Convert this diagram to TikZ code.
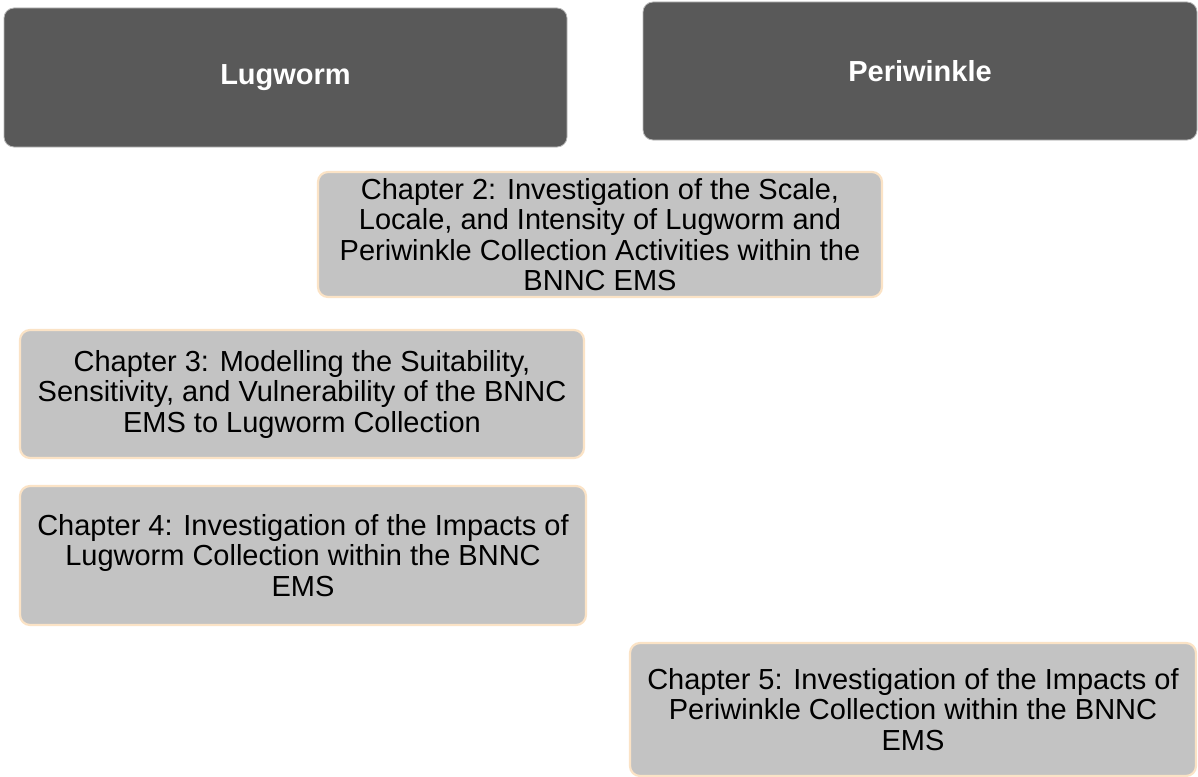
\documentclass[tikz,border=0pt]{standalone}
\usepackage{fontspec}
\setmainfont{Liberation Sans}
\definecolor{darkbox}{HTML}{595959}
\definecolor{lightbox}{HTML}{C3C3C3}
\definecolor{peach}{HTML}{FBE3C6}
\definecolor{edgegray}{HTML}{B8B8B8}
\tikzset{
  topbox/.style={rectangle, rounded corners=10pt, fill=darkbox, draw=edgegray, line width=0.8pt,
    text=white, font=\fontsize{29}{31}\selectfont\bfseries, inner sep=0pt},
  chapbox/.style={rectangle, rounded corners=10pt, fill=lightbox, draw=peach, line width=2.2pt,
    text=black, font=\fontsize{29}{30.5}\selectfont, align=center, inner sep=0pt}
}
\begin{document}
\begin{tikzpicture}[x=1pt,y=-1pt]
\useasboundingbox (0,0) rectangle (1198,776);
\node[topbox, minimum width=563pt, minimum height=139pt] (lug) at (285.5,77.5) {Lugworm};
\node[topbox, minimum width=554pt, minimum height=138pt] (peri) at (920,71) {Periwinkle};
\node[chapbox, minimum width=564pt, minimum height=125pt] (ch2) at (600,234.5)
  {Chapter 2: Investigation of the Scale,\\Locale, and Intensity of Lugworm and\\Periwinkle Collection Activities within the\\BNNC EMS};
\node[chapbox, minimum width=564pt, minimum height=128pt] (ch3) at (302,394)
  {Chapter 3: Modelling the Suitability,\\Sensitivity, and Vulnerability of the BNNC\\EMS to Lugworm Collection};
\node[chapbox, minimum width=566pt, minimum height=139pt] (ch4) at (303,555.5)
  {Chapter 4: Investigation of the Impacts of\\Lugworm Collection within the BNNC\\EMS};
\node[chapbox, minimum width=566pt, minimum height=133pt] (ch5) at (913,709.5)
  {Chapter 5: Investigation of the Impacts of\\Periwinkle Collection within the BNNC\\EMS};
\end{tikzpicture}
\end{document}
